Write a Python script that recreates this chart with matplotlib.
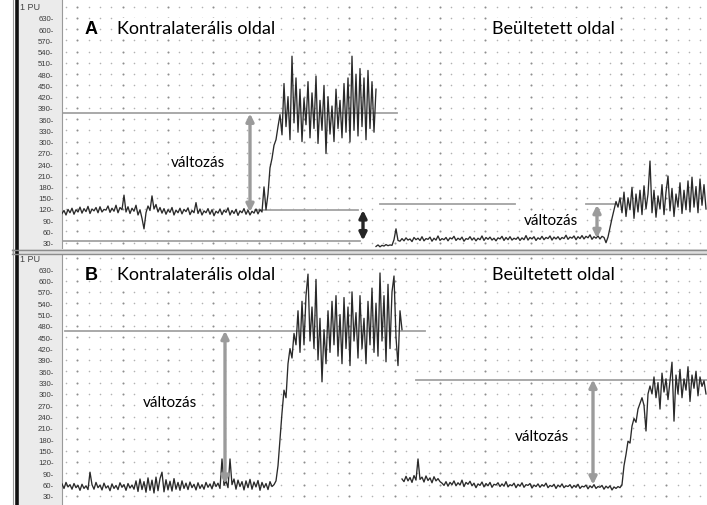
import numpy as np
import matplotlib.pyplot as plt
from matplotlib.patches import Rectangle
from matplotlib.lines import Line2D

# flux values in perfusion units, one list per phase of each recording
a_left_base = [108, 116, 104, 119, 110, 122, 106, 118, 112, 125,
               109, 121, 113, 127, 108, 120, 115, 124, 110, 126,
               112, 119, 117, 128, 111, 122, 114, 130, 110, 124,
               118, 157, 112, 126, 108, 122, 114, 130, 104, 118,
               95, 67, 110, 128, 116, 155, 120, 132, 112, 124,
               109, 121, 106, 118, 111, 124, 104, 117, 110, 122,
               107, 119, 113, 123, 105, 116, 110, 137, 108, 120,
               104, 115, 110, 121, 106, 118, 102, 114, 109, 120,
               105, 117, 111, 123, 104, 116, 108, 119, 103, 115,
               110, 121, 106, 117, 104, 114, 109, 120, 107, 118]
a_left_rise = [112, 179, 118, 160, 230, 255, 290, 305, 340, 372]
a_left_peak = [318, 455, 340, 420, 305, 528, 350, 470, 325, 440,
               300, 415, 345, 460, 310, 430, 335, 475, 295, 410,
               330, 450, 268, 420, 320, 395, 300, 440, 335, 410,
               310, 455, 325, 470, 300, 528, 330, 480, 315, 495,
               340, 470, 305, 490, 335, 460, 325, 440]

a_right_pre = [20, 24, 19, 23, 21, 25, 22, 24, 23]
a_right_base = [38, 67, 36, 34, 41, 35, 43, 37, 40, 33, 44, 38, 42, 36, 46, 35,
                41, 39, 45, 34, 42, 37, 48, 36, 41, 38, 44, 35, 43, 40, 47, 36,
                42, 38, 45, 34, 41, 39, 46, 37, 43, 35, 42, 38, 48, 36, 44, 39,
                45, 37, 42, 35, 43, 40, 47, 36, 44, 38, 46, 37, 42, 39, 45, 36,
                43, 38, 49, 37, 44, 40, 46, 36, 43, 39, 47, 38, 44, 41, 48, 37,
                45, 40, 46, 38, 44, 41, 50, 39, 45, 42, 48, 38, 46, 41, 49, 40,
                47, 43, 51, 39, 46, 42, 48, 40, 47, 44]
a_right_rise = [30, 45, 70, 95, 118, 140, 125, 150]
a_right_peak = [110, 165, 100, 150, 118, 178, 95, 160, 112, 170,
                105, 182, 120, 160, 248, 110, 170, 98, 155, 120,
                185, 105, 165, 208, 115, 175, 100, 160, 125, 190,
                108, 170, 118, 195, 112, 205, 125, 180, 110, 200,
                130, 185, 120]

b_left_base = [62, 50, 66, 54, 60, 48, 63, 52, 58, 45,
               61, 50, 57, 47, 93, 60, 48, 66, 52, 59,
               46, 64, 51, 57, 44, 62, 50, 58, 47, 65,
               53, 60, 45, 63, 51, 59, 48, 70, 42, 75,
               47, 68, 40, 78, 45, 72, 38, 80, 44, 76,
               93, 41, 73, 46, 69, 43, 76, 48, 66, 45,
               70, 50, 64, 47, 67, 52, 61, 46, 65, 50,
               60, 48, 66, 53, 62, 49, 68, 55, 64, 50,
               128, 58, 70, 52, 128, 60, 75, 48, 72, 55,
               68, 46, 70, 52, 74, 48, 67, 54, 71, 45,
               66, 52, 63, 47, 68, 55, 60]
b_left_rise = [70, 110, 180, 250, 310, 290, 380, 420, 395, 460, 430]
b_left_peak = [520, 410, 545, 430, 560, 617, 440, 530, 420, 603,
               390, 500, 332, 470, 380, 520, 410, 545, 430, 560,
               400, 510, 380, 555, 420, 530, 375, 570, 440, 515,
               395, 560, 420, 500, 380, 545, 430, 580, 410, 540,
               400, 620, 440, 560, 385, 590, 420, 570, 612, 450,
               375, 520, 470]

b_right_pre = [75, 68, 82, 70, 79, 66, 84, 72, 128, 74, 80, 67, 83, 71, 78, 65, 81, 70, 76, 68]
b_right_base = [64, 58, 68, 56, 66, 60, 70, 57, 65, 59, 72, 55, 66, 61, 69, 57, 64, 52,
                62, 58, 67, 54, 63, 57, 66, 53, 61, 59, 65, 55, 62, 56, 68, 54, 60, 57,
                64, 52, 61, 56, 65, 53, 60, 58, 63, 51, 59, 55, 62, 53, 60, 56, 64, 52,
                58, 55, 61, 50, 59, 54, 62, 52, 57, 55, 60, 51, 58, 53, 61, 50, 56, 54,
                59, 49, 57, 52, 60, 50, 55, 53, 58, 48, 56, 51, 57, 46, 54, 50, 55, 52]
b_right_rise = [60, 110, 140, 175, 170, 215, 235, 225, 260, 275, 290, 270, 202, 300, 321]
b_right_peak = [300, 345, 290, 330, 260, 355, 305, 340, 285, 335, 384, 228, 350, 300,
                365, 290, 340, 310, 372, 280, 350, 315, 360, 295, 345, 320, 335, 300]

# time spans (s) of each phase
a_left_spans = [(62, 260), (262, 280), (282, 376)]
a_right_spans = [(376, 392), (394, 604), (606, 620), (622, 706)]
b_left_spans = [(62, 274), (276, 296), (298, 402)]
b_right_spans = [(402, 440), (442, 620), (622, 650), (652, 706)]

# reference levels: (t start, t end, PU) and change arrows: (t, low, high, colour)
a_levels = [(62, 397, 375), (255, 358, 117), (62, 360, 35), (380, 515, 133), (586, 616, 133)]
a_arrows = [(250, 112, 375, '#9b9b9b'), (363, 36, 117, '#262626'), (597, 42, 131, '#9b9b9b')]
b_levels = [(65, 425, 467), (416, 707, 338)]
b_arrows = [(225, 62, 467, '#9b9b9b'), (593, 60, 338, '#9b9b9b')]

ticks = list(range(30, 631, 30))

W, H = 707, 506
fig = plt.figure(figsize=(W / 100, H / 100), dpi=100)
fig.patch.set_facecolor('white')


def frect(x0, y0, x1, y1, color, z=0):
    fig.add_artist(Rectangle((x0 / W, 1 - y1 / H), (x1 - x0) / W, (y1 - y0) / H,
                             transform=fig.transFigure, color=color, lw=0, zorder=z))


def fline(x0, y0, x1, y1, color, lw, z=5):
    fig.add_artist(Line2D([x0 / W, x1 / W], [1 - y0 / H, 1 - y1 / H],
                          transform=fig.transFigure, color=color, lw=lw, zorder=z))


# label strip on the left and the recorder frame
frect(18, 0, 62, H, '#ebebeb')
fline(13, 0, 13, H, '#9a9a9a', 0.8)
fline(16.5, 0, 16.5, H, '#111111', 2.6)


def series(pieces, spans):
    xs, ys = [], []
    for vals, (t0, t1) in zip(pieces, spans):
        xs.append(np.linspace(t0, t1, len(vals)))
        ys.append(np.asarray(vals, float))
    return np.concatenate(xs), np.concatenate(ys)


def panel(top, bottom, y30, k, traces, levels, arrows, letter, labels):
    ax = fig.add_axes([62 / W, 1 - bottom / H, (W - 62) / W, (bottom - top) / H])
    ax.set_xlim(62, 707)
    ax.set_ylim(30 - (bottom - y30) / k, 30 + (y30 - top) / k)
    for s in ['top', 'right', 'bottom']:
        ax.spines[s].set_visible(False)
    ax.spines['left'].set_color('#9a9a9a')
    ax.spines['left'].set_linewidth(0.8)
    ax.set_xticks([])
    ax.set_yticks(ticks)
    ax.set_yticklabels([f'{t}-' for t in ticks], fontsize=5.6, color='#3c3c3c',
                       family='Liberation Sans')
    ax.tick_params(axis='y', length=0, pad=6)

    # dotted recorder grid
    cols = 66 + 11.33 * np.arange(57)
    rows = np.arange(30, 661, 30)
    gx, gy = np.meshgrid(cols, rows)
    dark = (np.arange(57) % 4 == 1)
    ax.scatter(gx[:, ~dark].ravel(), gy[:, ~dark].ravel(), s=1.3, c='#b2b2b2', lw=0, zorder=1)
    ax.scatter(gx[:, dark].ravel(), gy[:, dark].ravel(), s=2.2, c='#8e8e8e', lw=0, zorder=1)

    for t0, t1, v in levels:
        ax.plot([t0, t1], [v, v], color='#a3a3a3', lw=1.3, zorder=2)

    for t, v in traces:
        ax.plot(t, v, color='#2a2a2a', lw=0.95, zorder=3)

    for t, lo, hi, c in arrows:
        ax.annotate('', xy=(t, hi), xytext=(t, lo),
                    arrowprops=dict(arrowstyle='<|-|>', color=c, lw=2.4,
                                    mutation_scale=11, shrinkA=0, shrinkB=0), zorder=4)

    box = dict(fc='white', ec='none', pad=1.5)
    ax.text(85, labels[0], letter, fontsize=13, fontweight='bold', family='Liberation Sans',
            va='center', ha='left', zorder=5)
    ax.text(117, labels[0], 'Kontralaterális oldal', fontsize=13, family='Lato',
            va='center', ha='left', bbox=box, zorder=5)
    ax.text(492, labels[0], 'Beültetett oldal', fontsize=13, family='Lato',
            va='center', ha='left', bbox=box, zorder=5)
    for t, v in labels[1]:
        ax.text(t, v, 'változás', fontsize=11, family='Lato', va='center', ha='center',
                bbox=box, zorder=5)
    return ax


a_traces = [series([a_left_base, a_left_rise, a_left_peak], a_left_spans),
            series([a_right_pre, a_right_base, a_right_rise, a_right_peak], a_right_spans)]
b_traces = [series([b_left_base, b_left_rise, b_left_peak], b_left_spans),
            series([b_right_pre, b_right_base, b_right_rise, b_right_peak], b_right_spans)]

panel(0, 250, 243.7, 0.3745, a_traces, a_levels, a_arrows, 'A',
      (603, [(198, 245), (551, 91)]))
panel(255, 506, 497.0, 0.378, b_traces, b_levels, b_arrows, 'B',
      (617, [(170, 279), (542, 189)]))

# separator between the two recordings
frect(12, 250, W, 255, '#dedede', z=4)
fline(12, 250.5, W, 250.5, '#8c8c8c', 1.0)
fline(12, 254.5, W, 254.5, '#8c8c8c', 1.0)

fig.text(20 / W, 1 - 7 / H, '1 PU', fontsize=6.5, color='#444444', va='center',
         family='Liberation Sans')
fig.text(20 / W, 1 - 260 / H, '1 PU', fontsize=6.5, color='#444444', va='center',
         family='Liberation Sans')

fig.savefig('out.png', dpi=100)
